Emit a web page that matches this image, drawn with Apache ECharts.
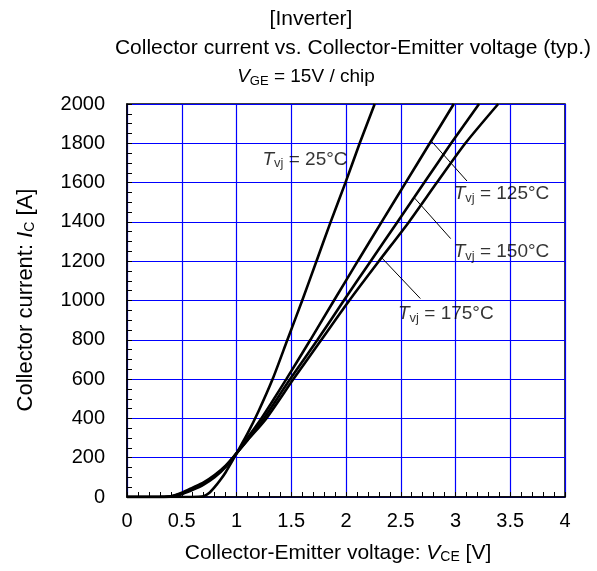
<!DOCTYPE html>
<html>
<head>
<meta charset="utf-8">
<script src="https://cdn.jsdelivr.net/npm/echarts@6/dist/echarts.min.js"></script>
<style>
  html, body { margin: 0; padding: 0; background: #ffffff; }
  #chart { width: 597px; height: 571px; }
</style>
</head>
<body>
<div id="chart"></div>
<script>
// Output characteristic, IC vs VCE at VGE = 15 V, one curve per junction temperature
const vce25  = [0, 0.5, 0.65, 0.7, 0.75, 0.8, 0.85, 0.9, 0.95, 1.0, 1.1, 1.2, 1.33, 1.465, 1.6, 1.73, 1.86, 1.995, 2.125, 2.262];
const ic25   = [0, 0, 1, 4, 20, 50, 85, 125, 172, 222, 322, 435, 600, 800, 1000, 1200, 1400, 1600, 1800, 2000];

const vce125 = [0, 0.35, 0.45, 0.5, 0.6, 0.7, 0.8, 0.9, 1.0, 1.1, 1.227, 1.455, 1.675, 1.89, 2.107, 2.326, 2.545, 2.765, 2.984];
const ic125  = [0, 0.5, 5, 14, 36, 63, 100, 152, 222, 300, 400, 600, 800, 1000, 1200, 1400, 1600, 1800, 2000];

const vce150 = [0, 0.3, 0.4, 0.5, 0.6, 0.7, 0.8, 0.9, 1.0, 1.1, 1.25, 1.49, 1.74, 1.98, 2.225, 2.47, 2.715, 2.96, 3.215];
const ic150  = [0, 0.3, 3, 18, 42, 70, 106, 156, 222, 290, 400, 600, 800, 1000, 1200, 1400, 1600, 1800, 2000];

const vce175 = [0, 0.3, 0.4, 0.5, 0.6, 0.7, 0.8, 0.9, 1.0, 1.1, 1.273, 1.52, 1.775, 2.03, 2.3, 2.575, 2.83, 3.09, 3.39];
const ic175  = [0, 0.5, 4, 22, 48, 75, 112, 160, 222, 288, 400, 600, 800, 1000, 1200, 1400, 1600, 1800, 2000];

// Tick labels
const xTickLabels = ['0', '0.5', '1', '1.5', '2', '2.5', '3', '3.5', '4'];
const yTickLabels = ['0', '200', '400', '600', '800', '1000', '1200', '1400', '1600', '1800', '2000'];

// Curve annotations: label anchor (left edge, vertical centre) and leader lines
const tempNames   = ['25', '125', '150', '175'];
const labelVce    = [1.237, 2.983, 2.983, 2.475];
const labelIc     = [1718, 1544, 1247, 933];
const leaderVce   = [[2.778, 3.105], [2.622, 2.956], [2.325, 2.679]];
const leaderIc    = [[1812, 1608], [1524, 1315], [1218, 1010]];

const FONT = '"Liberation Sans", Arial, Helvetica, sans-serif';

function pairs(xs, ys) { return xs.map((x, i) => [x, ys[i]]); }

const curveStyle = { color: '#000', width: 2.6 };

function curve(name, xs, ys) {
  return {
    name: name, type: 'line', data: pairs(xs, ys),
    smooth: 0.25, symbol: 'none', clip: true,
    lineStyle: curveStyle, silent: true, z: 5
  };
}

const labelRich = {
  it:  { fontFamily: FONT, fontSize: 19, fontStyle: 'italic', color: '#000' },
  sub: { fontFamily: FONT, fontSize: 13, color: '#000', padding: [9, 0, 0, 0] },
  txt: { fontFamily: FONT, fontSize: 19, color: '#000' }
};

const series = [
  curve('25', vce25, ic25),
  curve('125', vce125, ic125),
  curve('150', vce150, ic150),
  curve('175', vce175, ic175)
];

leaderVce.forEach((xs, i) => {
  series.push({
    type: 'line', data: pairs(xs, leaderIc[i]), symbol: 'none', silent: true,
    lineStyle: { color: '#000', width: 1 }, z: 6
  });
});

series.push({
  type: 'scatter', symbolSize: 0, silent: true, z: 7,
  data: tempNames.map((t, i) => ({ value: [labelVce[i], labelIc[i]], name: t })),
  label: {
    show: true, position: 'right', distance: 0,
    formatter: p => '{it|T}{sub|vj}{txt| = ' + p.name + '°C}',
    rich: labelRich
  }
});

const chart = echarts.init(document.getElementById('chart'), null, { renderer: 'canvas' });

chart.setOption({
  animation: false,
  backgroundColor: '#ffffff',
  grid: {
    left: 127, right: 32, top: 104, bottom: 74,
    show: true, borderColor: '#000', borderWidth: 1.5, backgroundColor: '#ffffff',
    containLabel: false
  },
  xAxis: {
    type: 'value', min: 0, max: 4, interval: 0.5,
    axisLine: { show: true, lineStyle: { color: '#000', width: 1.5 } },
    axisTick: { show: true, inside: true, length: 5, lineStyle: { color: '#000', width: 1 } },
    minorTick: { show: true, splitNumber: 5, length: 5, lineStyle: { color: '#000', width: 1 } },
    splitLine: { show: true, lineStyle: { color: '#0000ff', width: 1.2 } },
    axisLabel: {
      color: '#000', fontFamily: FONT, fontSize: 20, margin: 14,
      formatter: v => xTickLabels[Math.round(v / 0.5)]
    }
  },
  yAxis: {
    type: 'value', min: 0, max: 2000, interval: 200,
    axisLine: { show: true, lineStyle: { color: '#000', width: 1.5 } },
    axisTick: { show: true, inside: true, length: 5, lineStyle: { color: '#000', width: 1 } },
    minorTick: { show: true, splitNumber: 4, length: 5, lineStyle: { color: '#000', width: 1 } },
    splitLine: { show: true, lineStyle: { color: '#0000ff', width: 1.2 } },
    axisLabel: {
      color: '#000', fontFamily: FONT, fontSize: 20, margin: 22,
      formatter: v => yTickLabels[Math.round(v / 200)]
    }
  },
  graphic: [
    {
      type: 'text', x: 311, y: 19, silent: true,
      style: { text: '[Inverter]', fontFamily: FONT, fontSize: 21, fill: '#000', align: 'center', verticalAlign: 'middle' }
    },
    {
      type: 'text', x: 353, y: 48, silent: true,
      style: { text: 'Collector current vs. Collector-Emitter voltage (typ.)', fontFamily: FONT, fontSize: 21, fill: '#000', align: 'center', verticalAlign: 'middle' }
    },
    {
      type: 'text', x: 306, y: 77, silent: true,
      style: {
        text: '{it|V}{sub|GE}{txt| = 15V / chip}', align: 'center', verticalAlign: 'middle',
        rich: labelRich
      }
    },
    {
      type: 'text', x: 338, y: 553, silent: true,
      style: {
        text: '{t|Collector-Emitter voltage: }{it|V}{sub|CE}{t| [V]}', align: 'center', verticalAlign: 'middle',
        rich: {
          t:   { fontFamily: FONT, fontSize: 21, color: '#000' },
          it:  { fontFamily: FONT, fontSize: 21, fontStyle: 'italic', color: '#000' },
          sub: { fontFamily: FONT, fontSize: 14, color: '#000', padding: [9, 0, 0, 0] }
        }
      }
    },
    {
      type: 'text', x: 26, y: 300, rotation: Math.PI / 2, silent: true,
      style: {
        text: '{t|Collector current: }{it|I}{sub|C}{t| [A]}', align: 'center', verticalAlign: 'middle',
        rich: {
          t:   { fontFamily: FONT, fontSize: 22, color: '#000' },
          it:  { fontFamily: FONT, fontSize: 22, fontStyle: 'italic', color: '#000' },
          sub: { fontFamily: FONT, fontSize: 14, color: '#000', padding: [9, 0, 0, 0] }
        }
      }
    }
  ],
  series: series
});
</script>
</body>
</html>
